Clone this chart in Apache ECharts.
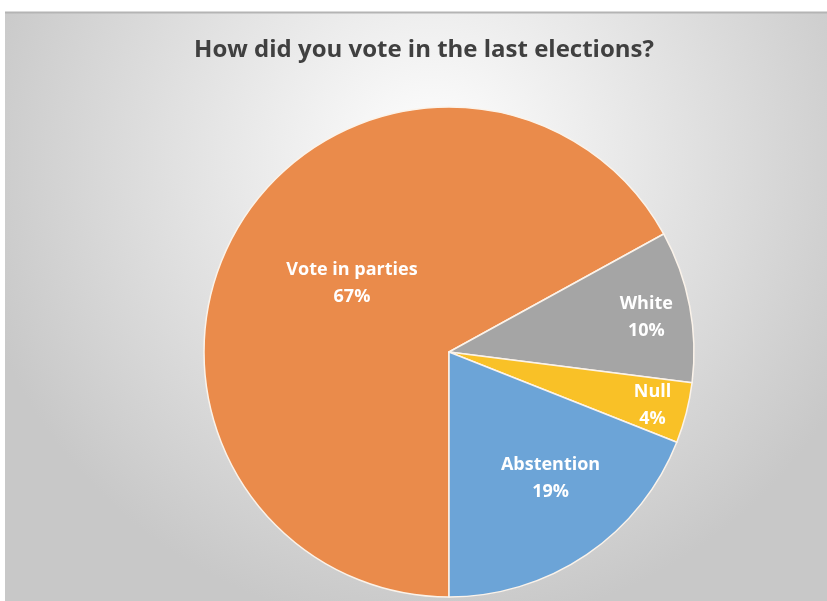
<!DOCTYPE html>
<html>
<head>
<meta charset="utf-8">
<script src="https://cdn.jsdelivr.net/npm/echarts@6/dist/echarts.min.js"></script>
<style>
  html, body { margin: 0; padding: 0; background: #fff; }
  #chart { width: 827px; height: 601px; }
</style>
</head>
<body>
<div id="chart"></div>
<script>
// slices, clockwise from 6 o'clock
const categories = ['Vote in parties', 'White', 'Null', 'Abstention'];
const shares = [67, 10, 4, 19];
const colors = ['#EA8B4B', '#A5A5A5', '#F9C127', '#6CA4D7'];

// nudge labels to where Excel's best fit put them
const labelNudge = {
  'Vote in parties': [11, -5],
  'White': [74, -11],
  'Null': [82, 22],
  'Abstention': [31, 23]
};

const chart = echarts.init(document.getElementById('chart'));

const option = {
  animation: false,
  graphic: [
    {
      type: 'rect',
      silent: true,
      z: -10,
      shape: { x: 5, y: 12, width: 822, height: 589 },
      style: {
        fill: {
          type: 'radial', x: 0.52, y: 0.25, r: 0.8,
          colorStops: [
            { offset: 0, color: '#ffffff' },
            { offset: 1, color: '#c8c8c8' }
          ]
        }
      }
    },
    {
      type: 'line',
      silent: true,
      z: -9,
      shape: { x1: 5, y1: 12.5, x2: 827, y2: 12.5 },
      style: { stroke: '#b4b4b4', lineWidth: 2 }
    }
  ],
  title: {
    text: 'How did you vote in the last elections?',
    left: 419,
    top: 33,
    textAlign: 'center',
    textStyle: {
      fontFamily: 'Open Sans',
      fontWeight: 'bold',
      fontSize: 24,
      color: '#404040'
    }
  },
  series: [{
    type: 'pie',
    center: [449, 352],
    radius: 245,
    startAngle: 270,
    clockwise: true,
    silent: true,
    itemStyle: { borderColor: '#fbf3ea', borderWidth: 1.5 },
    label: {
      show: true,
      position: 'inside',
      formatter: '{b}\n{c}%',
      color: '#fff',
      fontFamily: 'Open Sans',
      fontWeight: 'bold',
      fontSize: 18,
      lineHeight: 27
    },
    labelLine: { show: false },
    data: categories.map((name, i) => ({
      name: name,
      value: shares[i],
      itemStyle: { color: colors[i] },
      label: { offset: labelNudge[name] }
    }))
  }]
};

chart.setOption(option);
</script>
</body>
</html>
